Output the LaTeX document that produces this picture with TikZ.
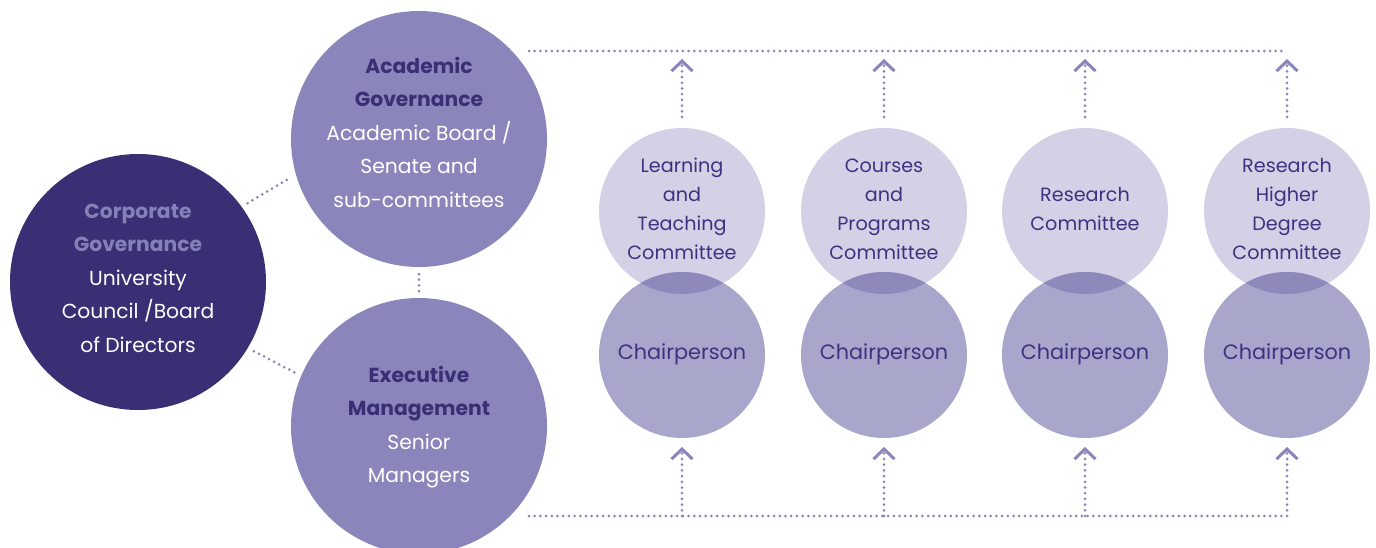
\documentclass[tikz,border=0pt]{standalone}
\usepackage{fontspec}
\setmainfont{Poppins}
\usetikzlibrary{arrows.meta}
\definecolor{bigc}{HTML}{8A86BB}
\definecolor{darkc}{HTML}{3A2E74}
\definecolor{lightc}{HTML}{D4D1E7}
\definecolor{chairc}{HTML}{A9A6CC}
\definecolor{overc}{HTML}{8E89BB}
\definecolor{corphead}{HTML}{8580B8}
\definecolor{ctextc}{HTML}{3D3280}
\tikzset{
  bigcirc/.style={circle, minimum size=256pt, inner sep=0pt, outer sep=0pt, draw=none},
  smallcirc/.style={circle, minimum size=166pt, inner sep=0pt, outer sep=0pt, draw=none},
  bigtxt/.style={align=center, inner sep=0pt, text=white, font=\fontsize{20.3}{33.5}\selectfont},
  ctxt/.style={align=center, inner sep=0pt, text=ctextc, font=\fontsize{19.2}{29}\selectfont},
  chtxt/.style={align=center, inner sep=0pt, text=ctextc, font=\fontsize{20.8}{29}\selectfont},
  dotline/.style={draw=bigc, line width=3pt, line cap=round, dash pattern=on 0pt off 5.7pt},
  uparrow/.style={dotline, -{Straight Barb[length=10pt, width=21pt, line width=0pt 1]}},
}
\begin{document}
\begin{tikzpicture}[x=1pt, y=-1pt]
\useasboundingbox (0,0) rectangle (1376,547);
% big circles
\node[bigcirc, fill=darkc] (corp) at (138,282) {};
\node[bigcirc, fill=bigc] (acad) at (419,139) {};
\node[bigcirc, fill=bigc] (exec) at (419,426) {};
\node[bigtxt] (corpt) at (138,278) {\textcolor{corphead}{\textbf{Corporate}}\\\textcolor{corphead}{\textbf{Governance}}\\University\\Council /Board\\of Directors};
\node[bigtxt] (acadt) at (419,132) {\textcolor{darkc}{\textbf{Academic}}\\\textcolor{darkc}{\textbf{Governance}}\\Academic Board /\\Senate and\\sub-committees};
\node[bigtxt] (exect) at (419,427) {\textcolor{darkc}{\textbf{Executive}}\\\textcolor{darkc}{\textbf{Management}}\\Senior\\Managers};
% links between big circles
\draw[dotline, shorten <=7pt, shorten >=7pt] (corp.36) -- (acad.196);
\draw[dotline, shorten <=7pt, shorten >=5pt] (corp.-31) -- (exec.157);
\draw[dotline, shorten <=7pt, shorten >=6pt] (acad.south) -- (exec.north);
% committees
\foreach \i/\x/\ctext in {1/682/{Learning\\and\\Teaching\\Committee},
                          2/884/{Courses\\and\\Programs\\Committee},
                          3/1085/{Research\\Committee},
                          4/1287/{Research\\Higher\\Degree\\Committee}}{
  \node[smallcirc, fill=lightc] (c\i) at (\x,211) {};
  \node[smallcirc, fill=chairc] (h\i) at (\x,355) {};
  \begin{scope}
    \clip (\x,211) circle[radius=83pt];
    \fill[overc] (\x,355) circle[radius=83pt];
  \end{scope}
  \node[ctxt] (ct\i) at (\x,209) {\ctext};
  \node[chtxt] (ch\i) at (\x,354) {Chairperson};
  \coordinate (t\i) at (\x,51);
  \coordinate (b\i) at (\x,516);
  \draw[uparrow, shorten <=11pt, shorten >=8pt] (c\i.north) -- (t\i);
  \draw[uparrow, shorten >=9pt] (b\i) -- (h\i.south);
}
\coordinate (tl) at (529,51);
\coordinate (bl) at (529,516);
\draw[dotline] (tl) -- (t4);
\draw[dotline] (bl) -- (b4);
\end{tikzpicture}
\end{document}
